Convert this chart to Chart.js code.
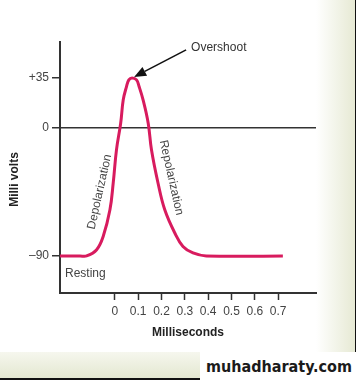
<!DOCTYPE html>
<html><head><meta charset="utf-8">
<script src="https://cdn.jsdelivr.net/npm/chart.js@4/dist/chart.umd.min.js"></script>
<style>
html,body{margin:0;padding:0;background:#fff;}
#wrap{position:relative;width:358px;height:381px;overflow:hidden;background:#fff;}
#rgrad{position:absolute;left:316px;top:0;width:40px;height:352px;background:linear-gradient(to right,rgba(232,236,214,0),#e6e9d3);}
#rline{position:absolute;left:355px;top:0;width:1px;height:352px;background:#111;}
#band{position:absolute;left:0;top:352px;width:358px;height:27px;background:linear-gradient(to bottom,#f6f7ee,#e3e7d0);}
#bline{position:absolute;left:0;top:378px;width:205px;height:2px;background:#111;}
#wm{position:absolute;left:200px;top:352px;width:158px;height:29px;background:#fff;font:bold 16px "DejaVu Sans Condensed","DejaVu Sans",sans-serif;color:#1b1b1b;line-height:29px;text-align:center;}
canvas{position:absolute;left:0;top:0;}
</style></head>
<body><div id="wrap">
<div id="rgrad"></div><div id="rline"></div><div id="band"></div><div id="bline"></div>
<canvas id="c" width="358" height="381"></canvas>
<div id="wm">muhadharaty.com</div>
</div>
<script>
// time in milliseconds
const timeMs = [-0.235, -0.149, -0.121, -0.078, -0.050, -0.021, -0.007, 0.007, 0.025, 0.036, 0.050, 0.060, 0.074, 0.093, 0.104, 0.121, 0.143, 0.157, 0.185, 0.214, 0.257, 0.292, 0.335, 0.392, 0.720];
// membrane potential in millivolts
const milliVolts = [-90, -90, -90, -85.6, -76.3, -57.6, -38.8, -15.5, 3.2, 19.6, 28.9, 33.6, 35, 33.6, 28.9, 19.6, 3.2, -15.5, -38.8, -57.6, -73.9, -83.3, -87.9, -90, -90];
const xTickValues = [0, 0.1, 0.2, 0.3, 0.4, 0.5, 0.6, 0.7];
const xTickLabels = ['0', '0.1', '0.2', '0.3', '0.4', '0.5', '0.6', '0.7'];
const yTickValues = [-90, 0, 35];
const yTickLabels = ['\u201390', '0', '+35'];
const peakLabel = 'Overshoot';
const phaseLabels = ['Depolarization', 'Repolarization', 'Resting'];
const xTitle = 'Milliseconds';
const yTitle = 'Milli volts';

const AX = '#333';
const FONT = '"Liberation Sans", Arial, sans-serif';

const points = timeMs.map((t, i) => ({x: t, y: milliVolts[i]}));

const annot = {
  id: 'annot',
  afterDraw(chart) {
    const ctx = chart.ctx, xs = chart.scales.x, ys = chart.scales.y, ca = chart.chartArea;
    ctx.save();
    // y title
    ctx.fillStyle = '#222';
    ctx.font = 'bold 12px ' + FONT;
    ctx.textAlign = 'center'; ctx.textBaseline = 'middle';
    ctx.save();
    ctx.translate(15, (ca.top + ca.bottom) / 2 + 12);
    ctx.rotate(-Math.PI / 2);
    ctx.fillText(yTitle, 0, 0);
    ctx.restore();

    // peak arrow
    let pi = milliVolts.indexOf(Math.max(...milliVolts));
    const px = xs.getPixelForValue(timeMs[pi]) + 2, py = ys.getPixelForValue(milliVolts[pi]) - 1;
    const tx = px + 52, ty = py - 27;
    ctx.strokeStyle = '#111'; ctx.fillStyle = '#111'; ctx.lineWidth = 1.6;
    const ang = Math.atan2(py - ty, px - tx);
    const hl = 12, hw = 5;
    const bx = px - hl * Math.cos(ang), by = py - hl * Math.sin(ang);
    ctx.beginPath(); ctx.moveTo(tx, ty); ctx.lineTo(bx, by); ctx.stroke();
    ctx.beginPath();
    ctx.moveTo(px, py);
    ctx.lineTo(bx + hw * Math.sin(ang), by - hw * Math.cos(ang));
    ctx.lineTo(bx - hw * Math.sin(ang), by + hw * Math.cos(ang));
    ctx.closePath(); ctx.fill();
    ctx.fillStyle = '#333';
    ctx.font = '12px ' + FONT;
    ctx.textAlign = 'left'; ctx.textBaseline = 'middle';
    ctx.fillText(peakLabel, tx + 5, ty - 2);

    // phase labels
    ctx.fillStyle = '#444';
    ctx.textAlign = 'center';
    ctx.save();
    ctx.translate(xs.getPixelForValue(-0.065), ys.getPixelForValue(-45));
    ctx.rotate(-1.35);
    ctx.fillText(phaseLabels[0], 0, 0);
    ctx.restore();
    ctx.save();
    ctx.translate(xs.getPixelForValue(0.242), ys.getPixelForValue(-35));
    ctx.rotate(1.35);
    ctx.fillText(phaseLabels[1], 0, 0);
    ctx.restore();
    ctx.textAlign = 'left';
    ctx.fillText(phaseLabels[2], ca.left + 5, ys.getPixelForValue(-90) + 18);
    ctx.restore();
  }
};

new Chart(document.getElementById('c'), {
  type: 'line',
  data: {datasets: [{
    data: points,
    borderColor: '#d81b5e',
    borderWidth: 3,
    pointRadius: 0,
    fill: false,
    tension: 0.4
  }]},
  options: {
    responsive: false,
    devicePixelRatio: 1,
    animation: false,
    layout: {padding: {top: 42, right: 42, left: 0, bottom: 0}},
    plugins: {legend: {display: false}, tooltip: {enabled: false}},
    scales: {
      x: {
        type: 'linear', min: -0.235, max: 0.862,
        afterBuildTicks: s => { s.ticks = xTickValues.map(v => ({value: v})); },
        afterFit: s => { s.height = 88; },
        ticks: {
          autoSkip: false, maxRotation: 0, padding: 4, color: '#444',
          font: {family: FONT, size: 12},
          callback: (v, i) => xTickLabels[i]
        },
        grid: {drawOnChartArea: false, drawTicks: true, tickLength: 7, color: AX, tickColor: AX, tickWidth: 1.5},
        border: {display: true, color: AX, width: 2},
        title: {display: true, text: xTitle, color: '#222', font: {family: FONT, size: 12, weight: 'bold'}, padding: {top: 0, bottom: 41}}
      },
      y: {
        type: 'linear', min: -116, max: 60.2,
        afterBuildTicks: s => { s.ticks = yTickValues.map(v => ({value: v})); },
        afterFit: s => { s.width = 60; },
        ticks: {
          autoSkip: false, padding: 3, color: '#444',
          font: {family: FONT, size: 12},
          callback: (v, i) => yTickLabels[i]
        },
        grid: {
          drawOnChartArea: true, drawTicks: true, tickLength: 8,
          color: c => c.tick && c.tick.value === 0 ? AX : 'rgba(0,0,0,0)',
          tickColor: AX, lineWidth: 1.5, tickWidth: 1.5
        },
        border: {display: true, color: AX, width: 2}
      }
    }
  },
  plugins: [annot]
});
</script>
</body></html>
